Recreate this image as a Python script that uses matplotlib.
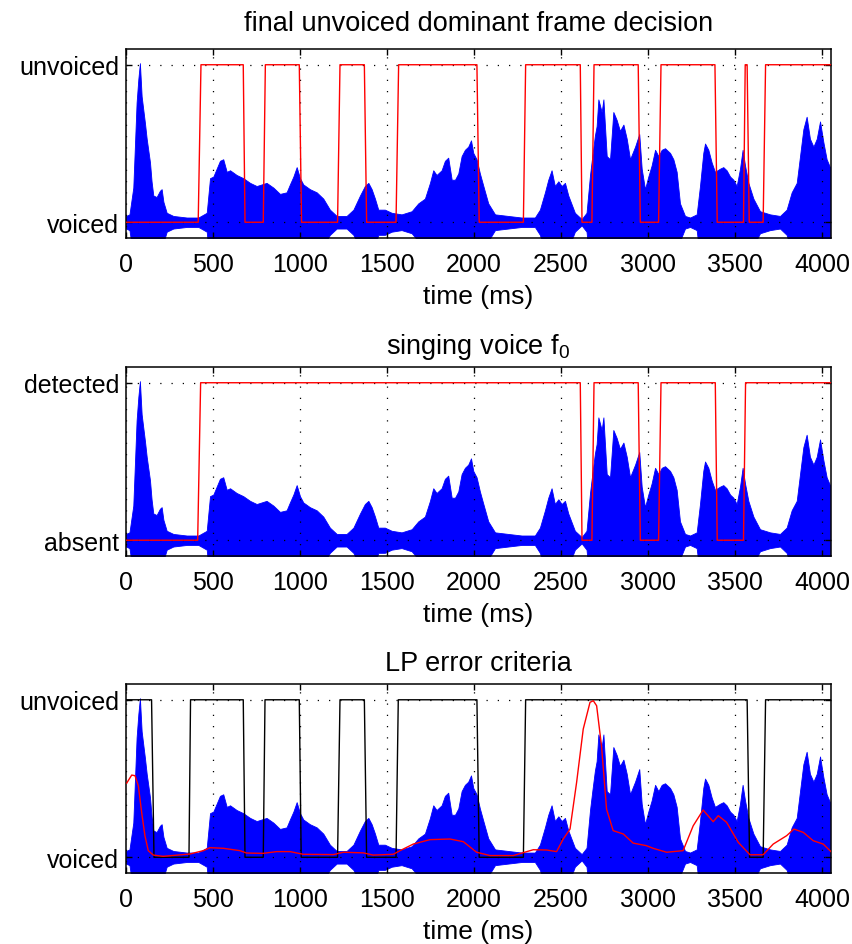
import numpy as np
import matplotlib.pyplot as plt

plt.rcParams["font.family"] = ["Liberation Sans", "DejaVu Sans"]
plt.rcParams["mathtext.default"] = "regular"

# waveform upper envelope (ms, amplitude)
env_t = [0, 20, 42, 61, 71, 80, 90, 100, 109, 119, 138, 147, 157, 176, 195, 205, 215, 234,
         272, 349, 416, 464, 483, 502, 521, 540, 559, 579, 598, 636, 674, 713, 751, 808,
         847, 885, 923, 942, 962, 981, 1000, 1019, 1057, 1096, 1134, 1172, 1211, 1268,
         1307, 1345, 1373, 1393, 1412, 1431, 1450, 1488, 1527, 1584, 1642, 1680, 1718,
         1747, 1766, 1785, 1814, 1833, 1852, 1872, 1891, 1910, 1929, 1948, 1967, 1983,
         1996, 2015, 2034, 2054, 2082, 2121, 2197, 2274, 2350, 2379, 2408, 2427, 2446,
         2465, 2485, 2504, 2523, 2542, 2580, 2619, 2647, 2667, 2680, 2695, 2705, 2715,
         2734, 2744, 2763, 2782, 2801, 2820, 2839, 2859, 2878, 2897, 2926, 2950, 2964,
         2983, 3002, 3021, 3041, 3060, 3079, 3098, 3127, 3146, 3165, 3184, 3213, 3242,
         3280, 3299, 3318, 3328, 3347, 3366, 3385, 3414, 3433, 3452, 3472, 3491, 3510,
         3529, 3544, 3558, 3577, 3606, 3644, 3702, 3759, 3797, 3826, 3855, 3874, 3893,
         3912, 3931, 3951, 3970, 3989, 4008, 4027, 4046]
env_top = [0.04, 0.05, 0.22, 0.76, 0.91, 1.01, 0.80, 0.71, 0.63, 0.53, 0.38, 0.26, 0.17,
           0.16, 0.20, 0.21, 0.13, 0.06, 0.04, 0.03, 0.03, 0.06, 0.28, 0.29, 0.34, 0.39,
           0.40, 0.32, 0.33, 0.30, 0.28, 0.25, 0.23, 0.25, 0.22, 0.18, 0.19, 0.24, 0.29,
           0.35, 0.28, 0.24, 0.21, 0.19, 0.15, 0.08, 0.04, 0.04, 0.08, 0.17, 0.23, 0.25,
           0.21, 0.15, 0.08, 0.08, 0.06, 0.05, 0.07, 0.12, 0.15, 0.25, 0.33, 0.30, 0.33,
           0.39, 0.41, 0.27, 0.27, 0.31, 0.42, 0.46, 0.48, 0.52, 0.44, 0.40, 0.31, 0.23,
           0.12, 0.05, 0.04, 0.03, 0.03, 0.08, 0.19, 0.27, 0.33, 0.23, 0.26, 0.23, 0.25,
           0.17, 0.06, 0.02, 0.06, 0.30, 0.42, 0.55, 0.61, 0.78, 0.70, 0.78, 0.42, 0.40,
           0.70, 0.65, 0.58, 0.62, 0.53, 0.40, 0.48, 0.56, 0.34, 0.21, 0.29, 0.36, 0.46,
           0.42, 0.46, 0.47, 0.44, 0.40, 0.32, 0.12, 0.04, 0.03, 0.05, 0.23, 0.44, 0.50,
           0.46, 0.38, 0.32, 0.34, 0.35, 0.33, 0.29, 0.27, 0.23, 0.34, 0.46, 0.36, 0.25,
           0.15, 0.07, 0.05, 0.04, 0.08, 0.19, 0.25, 0.42, 0.59, 0.67, 0.53, 0.48, 0.53,
           0.64, 0.51, 0.40, 0.35]
wave_center = 0.0

# final decision (0 = voiced, 1 = unvoiced)
dec_t = [0, 415, 431, 674, 684, 789, 801, 996, 1009, 1216, 1230, 1370, 1383, 1552, 1567,
         2017, 2030, 2284, 2297, 2611, 2621, 2678, 2690, 2944, 2956, 3061, 3075, 3385,
         3398, 3549, 3559, 3570, 3582, 3662, 3676, 4052]
dec_v = [0, 0, 1, 1, 0, 0, 1, 1, 0, 0, 1, 1, 0, 0, 1, 1, 0, 0, 1, 1, 0, 0, 1, 1, 0, 0,
         1, 1, 0, 0, 1, 1, 0, 0, 1, 1]

# singing voice f0 (0 = absent, 1 = detected)
f0_t = [0, 412, 429, 2611, 2621, 2678, 2690, 2944, 2956, 3061, 3075, 3387, 3398, 3549,
        3561, 4052]
f0_v = [0, 0, 1, 1, 0, 0, 1, 1, 0, 0, 1, 1, 0, 0, 1, 1]

# LP error decision and criterion
lp_t = [0, 147, 161, 362, 371, 674, 684, 789, 799, 996, 1007, 1216, 1230, 1370, 1383,
        1552, 1565, 2017, 2030, 2284, 2297, 3570, 3584, 3662, 3676, 4052]
lp_v = [1, 1, 0, 0, 1, 1, 0, 0, 1, 1, 0, 0, 1, 1, 0, 0, 1, 1, 0, 0, 1, 1, 0, 0, 1, 1]
err_t = [4, 33, 52, 71, 90, 109, 128, 157, 213, 368, 444, 483, 560, 655, 693, 789, 866,
         943, 1019, 1192, 1249, 1364, 1421, 1536, 1575, 1651, 1747, 1862, 1939, 2015,
         2092, 2226, 2341, 2418, 2475, 2513, 2552, 2590, 2628, 2667, 2686, 2705, 2733,
         2762, 2800, 2858, 2915, 2990, 3030, 3107, 3202, 3260, 3317, 3375, 3404, 3452,
         3519, 3586, 3662, 3720, 3797, 3839, 3893, 3950, 4007, 4052]
err_v = [0.471, 0.522, 0.518, 0.454, 0.285, 0.137, 0.042, 0.014, 0.006, 0.021, 0.042,
         0.061, 0.057, 0.042, 0.027, 0.025, 0.036, 0.036, 0.019, 0.017, 0.032, 0.028,
         0.014, 0.019, 0.042, 0.084, 0.112, 0.116, 0.099, 0.032, 0.011, 0.011, 0.048,
         0.046, 0.036, 0.116, 0.179, 0.476, 0.814, 0.984, 0.994, 0.962, 0.708, 0.306,
         0.169, 0.148, 0.090, 0.074, 0.057, 0.032, 0.042, 0.200, 0.300, 0.226, 0.264,
         0.222, 0.095, 0.016, 0.016, 0.084, 0.137, 0.179, 0.158, 0.105, 0.084, 0.036]

xticks = [0, 500, 1000, 1500, 2000, 2500, 3000, 3500, 4000]

fig = plt.figure(figsize=(8.53, 9.45), dpi=100)
bottoms = [0.7471, 0.4106, 0.0751]
axes = [fig.add_axes([0.1477, b, 0.8265, 0.2]) for b in bottoms]

top = np.array(env_top)
low = 2 * wave_center - top


def setup(ax, ylabels, title, title_pad):
    ax.fill_between(env_t, low, top, color="blue", lw=0.6, edgecolor="blue", zorder=1)
    ax.set_xlim(0, 4052)
    ax.set_ylim(-0.1, 1.1)
    ax.set_xticks(xticks)
    ax.set_yticks([0, 1])
    ax.set_yticklabels(ylabels)
    ax.grid(True, linestyle=(0, (1, 8)), color="black", lw=0.9)
    ax.tick_params(direction="in", top=True, right=True, length=4, width=1,
                   labelsize=18)
    ax.tick_params(axis="x", pad=10)
    ax.tick_params(axis="y", pad=5)
    for s in ax.spines.values():
        s.set_linewidth(1.1)
    ax.set_xlabel("time (ms)", fontsize=19, labelpad=6)
    ax.set_title(title, fontsize=19.5, pad=title_pad)


ax1, ax2, ax3 = axes

setup(ax1, ["voiced", "unvoiced"], "final unvoiced dominant frame decision", 14)
ax1.plot(dec_t, dec_v, color="red", lw=1.0, zorder=3)

setup(ax2, ["absent", "detected"], "singing voice f$_0$", 10)
ax2.plot(f0_t, f0_v, color="red", lw=1.0, zorder=3)

setup(ax3, ["voiced", "unvoiced"], "LP error criteria", 10)
ax3.plot(lp_t, lp_v, color="black", lw=1.0, zorder=2)
ax3.plot(err_t, err_v, color="red", lw=1.0, zorder=3)

plt.savefig("out.png", dpi=100)
